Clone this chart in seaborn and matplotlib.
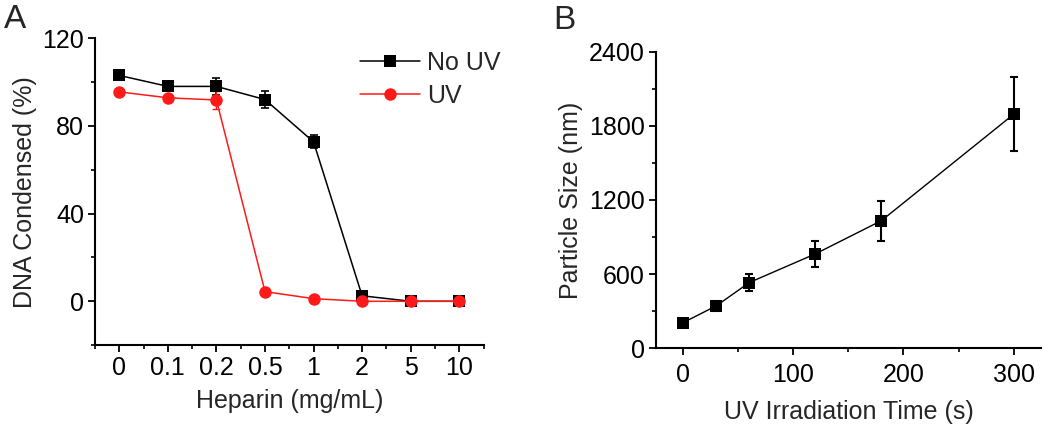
import numpy as np
import pandas as pd
import matplotlib
matplotlib.use("Agg")
import matplotlib.pyplot as plt
from matplotlib.ticker import MultipleLocator
import seaborn as sns

# panel A data
heparin = ['0', '0.1', '0.2', '0.5', '1', '2', '5', '10']
no_uv = [103, 98, 98, 92, 72.7, 2.5, 0, 0]
no_uv_err = [2, 2, 4, 4, 3, 1.5, 2, 1.5]
uv = [95.5, 92.8, 91.8, 4.4, 1.2, 0, 0, 0]
uv_err = [1, 1, 4, 1, 1, 1, 1, 1]

# panel B data
uv_time = [0, 30, 60, 120, 180, 300]
particle_size = [207, 342, 531, 763, 1032, 1893]
particle_err = [20, 40, 67, 105, 162, 300]

sns.set_style("ticks")
plt.rcParams['font.family'] = ['Liberation Sans', 'DejaVu Sans']
plt.rcParams['font.size'] = 18

fig = plt.figure(figsize=(10.5, 4.24), dpi=100)
axA = fig.add_axes([0.0905, 0.186, 0.37, 0.724])
axB = fig.add_axes([0.6245, 0.179, 0.367, 0.699])

pos = np.arange(len(heparin))
dfA = pd.DataFrame({'pos': np.concatenate([pos, pos]),
                    'val': no_uv + uv,
                    'grp': ['No UV'] * len(pos) + ['UV'] * len(pos)})

sns.lineplot(data=dfA, x='pos', y='val', hue='grp', style='grp',
             palette={'No UV': 'black', 'UV': '#ff1a1a'},
             markers={'No UV': 's', 'UV': 'o'}, dashes=False,
             markersize=9, markeredgewidth=0, linewidth=1.1, ax=axA)
axA.errorbar(pos, no_uv, yerr=no_uv_err, fmt='none', ecolor='black',
             elinewidth=1.2, capsize=3, capthick=1.2, zorder=1)
axA.errorbar(pos, uv, yerr=uv_err, fmt='none', ecolor='#ff1a1a',
             elinewidth=1, capsize=3, capthick=1, zorder=1)

axA.set_xlim(-0.5, 7.5)
axA.set_ylim(-20, 120)
axA.set_xticks(pos)
axA.set_xticklabels(heparin)
axA.xaxis.set_minor_locator(MultipleLocator(0.5))
axA.set_yticks([0, 40, 80, 120])
axA.yaxis.set_minor_locator(MultipleLocator(20))
axA.set_xlabel('Heparin (mg/mL)', fontsize=18)
axA.set_ylabel('DNA Condensed (%)', fontsize=18)
leg = axA.legend(loc='upper right', bbox_to_anchor=(0.477, 0.88),
                 bbox_transform=fig.transFigure, frameon=False, fontsize=18,
                 handlelength=2.4, handletextpad=0.3, borderaxespad=0,
                 labelspacing=0.36, borderpad=0)

dfB = pd.DataFrame({'t': uv_time, 'size': particle_size})
sns.lineplot(data=dfB, x='t', y='size', color='black', marker='s',
             markersize=8, markeredgewidth=0, linewidth=1.0, ax=axB)
axB.errorbar(uv_time, particle_size, yerr=particle_err, fmt='none',
             ecolor='black', elinewidth=1.5, capsize=3, capthick=1.5, zorder=1)
axB.set_xlim(-25, 325)
axB.set_ylim(0, 2400)
axB.set_xticks([0, 100, 200, 300])
axB.xaxis.set_minor_locator(MultipleLocator(50))
axB.set_yticks([0, 600, 1200, 1800, 2400])
axB.yaxis.set_minor_locator(MultipleLocator(300))
axB.set_xlabel('UV Irradiation Time (s)', fontsize=18)
axB.set_ylabel('Particle Size (nm)', fontsize=18)

for ax in (axA, axB):
    sns.despine(ax=ax)
    for s in ('left', 'bottom'):
        ax.spines[s].set_linewidth(1.5)
        ax.spines[s].set_color('black')
    ax.tick_params(which='major', length=5, width=1.3, labelsize=18,
                   colors='black', pad=3)
    ax.tick_params(which='minor', length=3, width=1.2, colors='black')
    ax.xaxis.labelpad = 6
    ax.yaxis.labelpad = 4
axB.tick_params(axis='x', which='major', pad=6)
axB.xaxis.labelpad = 9

fig.text(0.004, 0.955, 'A', fontsize=24, va='center')
fig.text(0.527, 0.952, 'B', fontsize=24, va='center')

fig.savefig('out.png', dpi=100)
